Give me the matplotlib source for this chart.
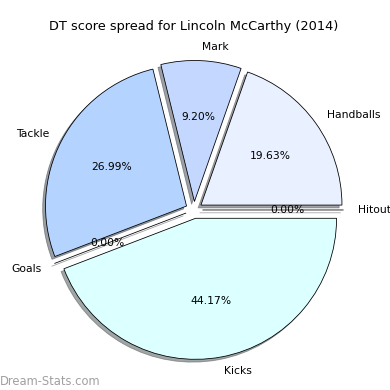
import matplotlib
matplotlib.use("Agg")
import matplotlib.pyplot as plt

categories = ["Hitout", "Handballs", "Mark", "Tackle", "Goals", "Kicks"]
values = [0.00, 19.63, 9.20, 26.99, 0.00, 44.17]
colors = ["#f0f0ff", "#e9f0ff", "#c4d8ff", "#b4d4ff", "#c8e0ff", "#dcffff"]
explode = [0.06] * len(values)

fig = plt.figure(figsize=(390/72, 390/72), dpi=72)
ax = fig.add_axes([0.0455, 0.0096, 0.904, 0.904])
ax.pie(values, labels=categories, colors=colors, explode=explode,
       autopct="%.2f%%", shadow=True, startangle=0,
       wedgeprops=dict(edgecolor="black", linewidth=0.8),
       textprops=dict(fontsize=10.8))
ax.set_aspect("equal")
ax.set_title("DT score spread for Lincoln McCarthy (2014)", fontsize=12.9, pad=4)
fig.text(0.0, 0.006, "Dream-Stats.com", color="#a0a0a0", fontsize=11.5, ha="left", va="bottom")
fig.savefig("out.png", dpi=72)
